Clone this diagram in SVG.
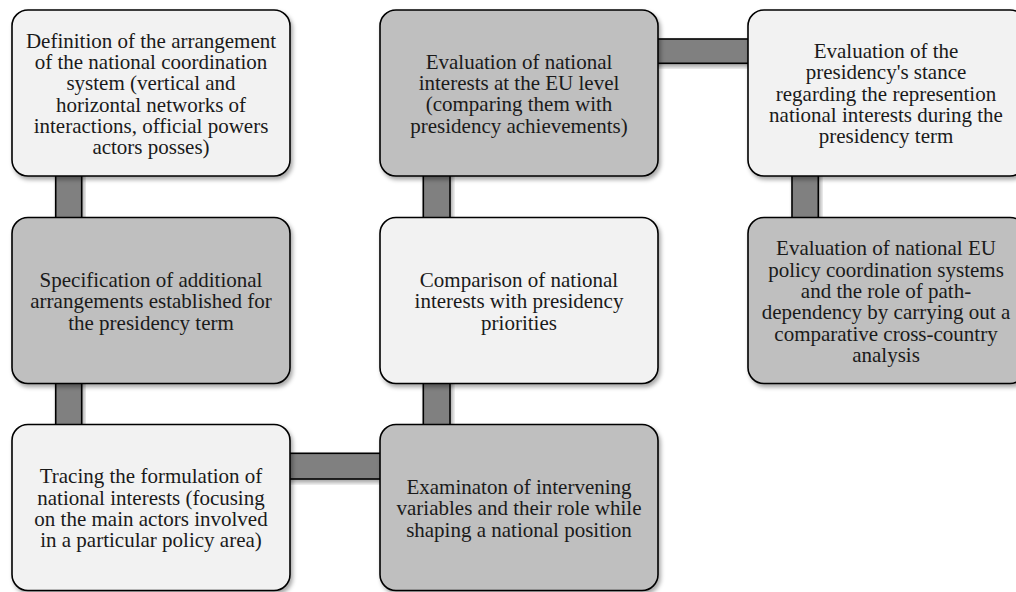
<svg xmlns="http://www.w3.org/2000/svg" width="1016" height="592" viewBox="0 0 1016 592">
<defs>
<filter id="sh" x="-10%" y="-10%" width="125%" height="130%">
<feDropShadow dx="2" dy="3" stdDeviation="2" flood-color="#000" flood-opacity="0.35"/>
</filter>
<style>
.node rect{stroke:#000;stroke-width:1.6;filter:url(#sh)}
.light rect{fill:#f2f2f2}
.dark rect{fill:#bfbfbf}
.node text{font-family:"Liberation Serif","Times New Roman",serif;font-size:21px;fill:#1a1a1a;text-anchor:middle}
.conn rect{fill:#808080;stroke:#000;stroke-width:1.6;filter:url(#sh)}
</style>
</defs>
<rect width="1016" height="592" fill="#fff"/>
<g id="connectors" class="conn">
<rect x="55.7" y="170" width="26" height="54"/>
<rect x="55.7" y="377" width="26" height="54"/>
<rect x="423.3" y="170" width="26.7" height="54"/>
<rect x="423.3" y="377" width="26.7" height="54"/>
<rect x="792" y="170" width="26.3" height="54"/>
<rect x="652" y="39" width="102" height="24.3"/>
<rect x="284" y="453.3" width="102" height="25.7"/>
</g>
<g id="n1" class="node light">
<rect x="12" y="10" width="278" height="166" rx="16"/>
<text x="151" y="47.7">Definition of the arrangement</text>
<text x="151" y="69">of the national coordination</text>
<text x="151" y="90.3">system (vertical and</text>
<text x="151" y="111.6">horizontal networks of</text>
<text x="151" y="132.9">interactions, official powers</text>
<text x="151" y="154.2">actors posses)</text>
</g>
<g id="n2" class="node dark">
<rect x="12" y="217.5" width="278" height="166" rx="16"/>
<text x="151" y="286.9">Specification of additional</text>
<text x="151" y="308.2">arrangements established for</text>
<text x="151" y="329.5">the presidency term</text>
</g>
<g id="n3" class="node light">
<rect x="12" y="424.5" width="278" height="166" rx="16"/>
<text x="151" y="483.3">Tracing the formulation of</text>
<text x="151" y="504.6">national interests (focusing</text>
<text x="151" y="525.9">on the main actors involved</text>
<text x="151" y="547.2">in a particular policy area)</text>
</g>
<g id="n4" class="node dark">
<rect x="380" y="424.5" width="278" height="166" rx="16"/>
<text x="519" y="493.9">Examinaton of intervening</text>
<text x="519" y="515.2">variables and their role while</text>
<text x="519" y="536.5">shaping a national position</text>
</g>
<g id="n5" class="node light">
<rect x="380" y="217.5" width="278" height="166" rx="16"/>
<text x="519" y="286.9">Comparison of national</text>
<text x="519" y="308.2">interests with presidency</text>
<text x="519" y="329.5">priorities</text>
</g>
<g id="n6" class="node dark">
<rect x="380" y="10" width="278" height="166" rx="16"/>
<text x="519" y="68.7">Evaluation of national</text>
<text x="519" y="90">interests at the EU level</text>
<text x="519" y="111.3">(comparing them with</text>
<text x="519" y="132.6">presidency achievements)</text>
</g>
<g id="n7" class="node light">
<rect x="748" y="10" width="278" height="166" rx="16"/>
<text x="886" y="58.1">Evaluation of the</text>
<text x="886" y="79.4">presidency's stance</text>
<text x="886" y="100.7">regarding the represention</text>
<text x="886" y="122">national interests during the</text>
<text x="886" y="143.3">presidency term</text>
</g>
<g id="n8" class="node dark">
<rect x="748" y="217.5" width="278" height="166" rx="16"/>
<text x="886" y="255.3">Evaluation of national EU</text>
<text x="886" y="276.6">policy coordination systems</text>
<text x="886" y="297.9">and the role of path-</text>
<text x="886" y="319.2">dependency by carrying out a</text>
<text x="886" y="340.5">comparative cross-country</text>
<text x="886" y="361.8">analysis</text>
</g>
</svg>
